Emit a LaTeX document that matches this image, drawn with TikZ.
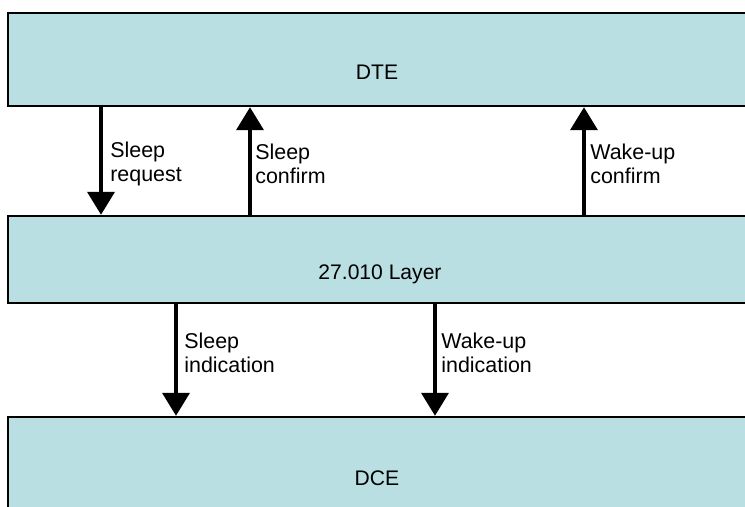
\documentclass[tikz,border=0pt]{standalone}
\usepackage{fontspec}
\setmainfont{Liberation Sans}
\usepackage{xcolor}
\usetikzlibrary{arrows.meta,calc}
\definecolor{azzurro}{RGB}{186,223,226}

\begin{document}
\begin{tikzpicture}[x=0.02cm, y=-0.02cm,
        blocco/.style={draw=black, line width=1.4pt, fill=azzurro, minimum width=14.8cm, inner sep=0pt},
        freccia/.style={line width=2.2pt, -{Triangle[width=0.54cm,length=0.46cm]}},
        testo/.style={inner sep=0pt, text depth=0pt, font=\fontsize{12}{13}\selectfont},
        etichetta/.style={anchor=west, align=left, inner sep=0pt, font=\fontsize{12.2}{13.4}\selectfont}]
        \clip (0,0) rectangle (745,507);

        % Blocchi
        \node[blocco, minimum height=1.86cm] (dte) at (378,59.5) {};
        \node[blocco, minimum height=1.74cm] (layer) at (378,259.5) {};
        \node[blocco, minimum height=3.66cm] (dce) at (378,508.5) {};

        % Nomi dei blocchi
        \node[testo] (tdte) at (377,72) {DTE};
        \node[testo] (tlayer) at (380,272) {27.010 Layer};
        \node[testo] (tdce) at (377,478) {DCE};

        % Frecce tra DTE e layer
        \draw[freccia] ($(dte.south)+(-277,0)$) -- ($(layer.north)+(-277,0)$); % verso il basso
        \draw[freccia] ($(layer.north)+(-128,0)$) -- ($(dte.south)+(-128,0)$); % verso l'alto
        \draw[freccia] ($(layer.north)+(206,0)$) -- ($(dte.south)+(206,0)$);

        % Frecce tra layer e DCE
        \draw[freccia] ($(layer.south)+(-202,0)$) -- ($(dce.north)+(-202,0)$);
        \draw[freccia] ($(layer.south)+(57,0)$) -- ($(dce.north)+(57,0)$);

        % Etichette
        \node[etichetta] (lreq) at (110,164) {Sleep\\request};
        \node[etichetta] (lconf) at (255,164) {Sleep\\confirm};
        \node[etichetta] (lwconf) at (590,164) {Wake-up\\confirm};
        \node[etichetta] (lind) at (184,353) {Sleep\\indication};
        \node[etichetta] (lwind) at (441,353) {Wake-up\\indication};
    \end{tikzpicture}
\end{document}
